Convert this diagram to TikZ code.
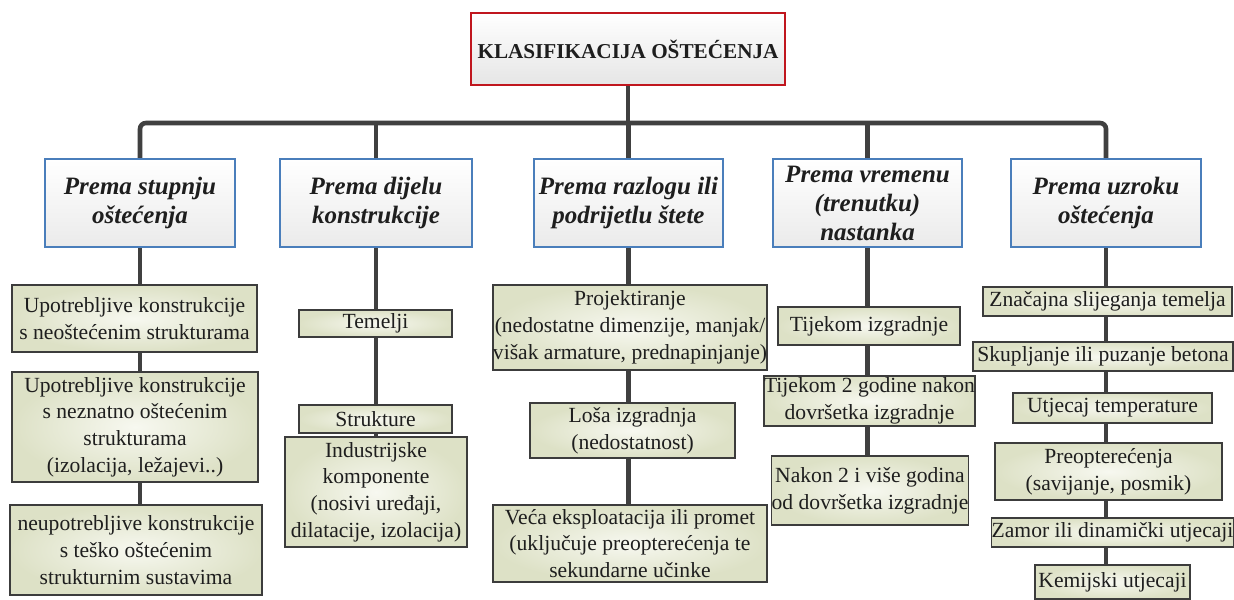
\documentclass[tikz,border=0pt]{standalone}
\usepackage{fontspec}
\setmainfont{Liberation Serif}
\usetikzlibrary{backgrounds}

\definecolor{linija}{HTML}{404040}
\definecolor{plava}{HTML}{4A7EBB}
\definecolor{crvena}{HTML}{C0161E}
\definecolor{okvir}{HTML}{3C3C3C}
\definecolor{tekst}{HTML}{1E1E1E}
\definecolor{sredina}{HTML}{F7F8F0}
\definecolor{rub}{HTML}{DDE1C6}

\begin{document}
\begin{tikzpicture}[x=0.5pt,y=-0.5pt,
	naslov/.style={draw=crvena,line width=1.2pt,top color=white,bottom color=black!10,text=tekst,font=\fontsize{10.6}{12}\selectfont\bfseries,inner sep=0,minimum width=157pt,minimum height=36pt},
	kat/.style={draw=plava,line width=1.1pt,top color=white,bottom color=black!8,text=tekst,font=\fontsize{12.5}{14.5}\selectfont\bfseries\itshape,align=center,inner sep=0,minimum height=44pt},
	stavka/.style={draw=okvir,line width=0.8pt,inner color=sredina,outer color=rub,text=tekst,font=\fontsize{10.8}{13.4}\selectfont,align=center,inner sep=0},
	veza/.style={draw=linija,line width=2.3pt}]
	\useasboundingbox (0,0) rectangle (1234,599);
	\node[naslov] (kl) at (628,49) {KLASIFIKACIJA OŠTEĆENJA};
	\node[kat,minimum width=95pt] (p1) at (140,203) {Prema stupnju\\oštećenja};
	\node[kat,minimum width=96pt] (p2) at (376,203) {Prema dijelu\\konstrukcije};
	\node[kat,minimum width=94.5pt] (p3) at (628.5,203) {Prema razlogu ili\\podrijetlu štete};
	\node[kat,minimum width=94.5pt] (p4) at (867.5,203) {Prema vremenu\\(trenutku)\\nastanka};
	\node[kat,minimum width=95pt] (p5) at (1106,203) {Prema uzroku\\oštećenja};
	% prema stupnju
	\node[stavka,minimum width=122.5pt,minimum height=33.5pt] (u1) at (134.5,318.5) {Upotrebljive konstrukcije\\s neoštećenim strukturama};
	\node[stavka,minimum width=123pt,minimum height=55pt] (u2) at (135,427) {Upotrebljive konstrukcije\\s neznatno oštećenim\\strukturama\\(izolacija, ležajevi..)};
	\node[stavka,minimum width=126pt,minimum height=45pt] (u3) at (136,550) {neupotrebljive konstrukcije\\s teško oštećenim\\strukturnim sustavima};
	% prema dijelu
	\node[stavka,minimum width=76.5pt,minimum height=13.5pt] (t1) at (375.5,323.5) {Temelji};
	\node[stavka,minimum width=76.5pt,minimum height=14pt] (t2) at (375.5,419) {Strukture};
	\node[stavka,minimum width=91pt,minimum height=55pt] (t3) at (376,492) {Industrijske\\komponente\\(nosivi uređaji,\\dilatacije, izolacija)};
	% prema razlogu
	\node[stavka,minimum width=137pt,minimum height=42.5pt] (r1) at (630,327.5) {Projektiranje\\(nedostatne dimenzije, manjak/\\višak armature, prednapinjanje)};
	\node[stavka,minimum width=102.5pt,minimum height=27.5pt] (r2) at (632.5,430.5) {Loša izgradnja\\(nedostatnost)};
	\node[stavka,minimum width=137pt,minimum height=38.5pt] (r3) at (630,543.5) {Veća eksploatacija ili promet\\(uključuje preopterećenja te\\sekundarne učinke};
	% prema vremenu
	\node[stavka,minimum width=91pt,minimum height=19pt] (v1) at (869,326) {Tijekom izgradnje};
	\node[stavka,minimum width=102.5pt,minimum height=25pt] (v2) at (869.5,401) {Tijekom 2 godine nakon\\dovršetka izgradnje};
	\node[stavka,minimum width=97pt,minimum height=34.5pt] (v3) at (870,490.5) {Nakon 2 i više godina\\od dovršetka izgradnje};
	% prema uzroku
	\node[stavka,minimum width=124.5pt,minimum height=14.5pt] (z1) at (1107.5,301.5) {Značajna slijeganja temelja};
	\node[stavka,minimum width=130pt,minimum height=14.5pt] (z2) at (1103,356.5) {Skupljanje ili puzanje betona};
	\node[stavka,minimum width=99.5pt,minimum height=15pt] (z3) at (1112.5,408) {Utjecaj temperature};
	\node[stavka,minimum width=113.5pt,minimum height=28.5pt] (z4) at (1108.5,471.5) {Preopterećenja\\(savijanje, posmik)};
	\node[stavka,minimum width=120.5pt,minimum height=14.5pt] (z5) at (1112.5,532.5) {Zamor ili dinamički utjecaji};
	\node[stavka,minimum width=77.5pt,minimum height=17pt] (z6) at (1112.5,582) {Kemijski utjecaji};
	\coordinate (g) at (628,123);
	\begin{pgfonlayer}{background}
		\fill[white] (0,0) rectangle (1234,599);
		\draw[veza] (kl.south) -- (kl.south |- g);
		\draw[veza,rounded corners=3pt] (p1.north) -- (p1.north |- g) -- (p5.north |- g) -- (p5.north);
		\draw[veza] (p2.north) -- (p2.north |- g);
		\draw[veza] (p3.north) -- (p3.north |- g);
		\draw[veza] (p4.north) -- (p4.north |- g);
		\draw[veza] (p1.south) -- (p1.south |- u3.north);
		\draw[veza] (p2.south) -- (p2.south |- t3.north);
		\draw[veza] (p3.south) -- (p3.south |- r3.north);
		\draw[veza] (p4.south) -- (p4.south |- v3.north);
		\draw[veza] (p5.south) -- (p5.south |- z6.north);
	\end{pgfonlayer}
\end{tikzpicture}
\end{document}
